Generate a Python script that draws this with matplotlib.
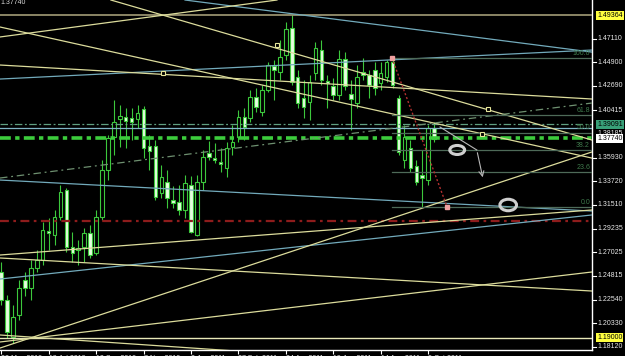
import matplotlib
matplotlib.use('Agg')
import matplotlib.pyplot as plt
from matplotlib.patches import Rectangle, Ellipse

# ---------------- data (weekly candles) ----------------
opens = [1.2517, 1.2253, 1.1905, 1.2112, 1.2442, 1.2366, 1.2555, 1.2630, 1.2903, 1.2865,
         1.3035, 1.3289, 1.2752, 1.2724, 1.2752, 1.2884, 1.2696, 1.3035, 1.3477, 1.3788,
         1.3957, 1.3976, 1.3967, 1.3957, 1.4052, 1.3703, 1.3703, 1.3261, 1.3364, 1.3195,
         1.3176, 1.3101, 1.3336, 1.2865, 1.3364, 1.3637, 1.3590, 1.3553, 1.3496, 1.3694,
         1.3788, 1.3976, 1.3967, 1.4165, 1.4023, 1.4231, 1.4457, 1.4400, 1.4560, 1.4814,
         1.4353, 1.4155, 1.4118, 1.4391, 1.4607, 1.4315, 1.4268, 1.4183, 1.4522, 1.4193,
         1.4108, 1.4400, 1.4372, 1.4419, 1.4296, 1.4353, 1.4494, 1.4155, 1.3571, 1.3684,
         1.3515, 1.3430, 1.3383, 1.3873]
highs = [1.2611, 1.2300, 1.2206, 1.2442, 1.2517, 1.2630, 1.2724, 1.2988, 1.3025, 1.3101,
         1.3336, 1.3308, 1.2893, 1.2818, 1.2931, 1.2959, 1.3101, 1.3571, 1.3807, 1.4136,
         1.4089, 1.4061, 1.4061, 1.4089, 1.4080, 1.3807, 1.3760, 1.3524, 1.3477, 1.3327,
         1.3336, 1.3430, 1.3421, 1.3430, 1.3666, 1.3750, 1.3731, 1.3684, 1.3741, 1.3901,
         1.4042, 1.4061, 1.4231, 1.4249, 1.4278, 1.4494, 1.4513, 1.4701, 1.4871, 1.4937,
         1.4419, 1.4325, 1.4372, 1.4683, 1.4701, 1.4372, 1.4344, 1.4607, 1.4588, 1.4325,
         1.4466, 1.4532, 1.4419, 1.4494, 1.4494, 1.4513, 1.4532, 1.4183, 1.3901, 1.3760,
         1.3571, 1.3666, 1.3901, 1.3929]
lows = [1.2206, 1.1895, 1.1848, 1.2065, 1.2291, 1.2253, 1.2517, 1.2583, 1.2724, 1.2771,
        1.3006, 1.2705, 1.2611, 1.2583, 1.2611, 1.2649, 1.2677, 1.3006, 1.3383, 1.3619,
        1.3694, 1.3684, 1.3760, 1.3873, 1.3590, 1.3477, 1.3195, 1.3214, 1.3120, 1.3120,
        1.3054, 1.3025, 1.2884, 1.2856, 1.3289, 1.3571, 1.3543, 1.3458, 1.3411, 1.3619,
        1.3741, 1.3760, 1.3929, 1.4023, 1.3986, 1.4212, 1.4136, 1.4325, 1.4513, 1.4278,
        1.4061, 1.3967, 1.3948, 1.4325, 1.4278, 1.4061, 1.4136, 1.4136, 1.4231, 1.3854,
        1.4061, 1.4325, 1.4155, 1.4183, 1.4231, 1.4306, 1.4249, 1.3619, 1.3496, 1.3458,
        1.3336, 1.3129, 1.3336, 1.3741]
closes = [1.2253, 1.1952, 1.2093, 1.2366, 1.2366, 1.2555, 1.2630, 1.2912, 1.2884, 1.3035,
          1.3270, 1.2752, 1.2696, 1.2743, 1.2884, 1.2677, 1.3035, 1.3477, 1.3779, 1.3929,
          1.3986, 1.3939, 1.3929, 1.4014, 1.3684, 1.3656, 1.3223, 1.3411, 1.3214, 1.3167,
          1.3101, 1.3355, 1.2893, 1.3364, 1.3600, 1.3600, 1.3571, 1.3534, 1.3684, 1.3741,
          1.3976, 1.3882, 1.4165, 1.4070, 1.4231, 1.4466, 1.4419, 1.4541, 1.4805, 1.4306,
          1.4108, 1.4070, 1.4306, 1.4626, 1.4325, 1.4296, 1.4183, 1.4522, 1.4268, 1.4146,
          1.4353, 1.4372, 1.4278, 1.4249, 1.4391, 1.4494, 1.4278, 1.3647, 1.3788, 1.3496,
          1.3364, 1.3402, 1.3873, 1.3774]

date_idx = [0, 8, 16, 24, 32, 40, 48, 56, 64, 72]
date_labels = ['23 May 2010', '18 Jul 2010', '12 Sep 2010', '7 Nov 2010', '2 Jan 2011',
               '27 Feb 2011', '24 Apr 2011', '19 Jun 2011', '14 Aug 2011', '9 Oct 2011']

price_ticks = [1.47110, 1.44900, 1.42690, 1.40415, 1.35930, 1.33720, 1.31510,
               1.29235, 1.27025, 1.24815, 1.22540, 1.20330, 1.18120]

# horizontal levels: (price, color, linestyle, linewidth)
h_prices = [1.49364, 1.19000, 1.39091, 1.3873, 1.3779, 1.2997]
h_colors = ['#a39b76', '#e8e8b8', '#5f9f80', '#7fb4c4', '#3ccc3c', '#8e1c1c']
h_styles = ['-', '-', (0, (6, 2, 1.5, 2)), '-', (0, (3, 1.2, 1.2, 1.2)), (0, (4, 2, 1.2, 2))]
h_widths = [1.2, 1.0, 0.9, 0.9, 2.6, 1.6]

# trend lines (x index, price) -> (x index, price)
teal_lines = [(-0.2, 1.4334, 99.6, 1.4607),
              (31.0, 1.5078, 99.6, 1.4588),
              (-0.2, 1.3383, 99.6, 1.3091),
              (-0.2, 1.2451, 99.6, 1.3054)]
yellow_lines = [(-0.2, 1.4730, 46.5, 1.5078),
                (18.5, 1.5078, 99.6, 1.3760),
                (-0.2, 1.4824, 99.6, 1.3590),
                (-0.2, 1.4466, 99.6, 1.4146),
                (-0.2, 1.2677, 99.6, 1.3101),
                (-0.2, 1.2649, 99.6, 1.2338),
                (-0.2, 1.1858, 99.6, 1.2517),
                (-0.2, 1.1924, 42.0, 1.1764),
                (-0.2, 1.1801, 99.6, 1.3647)]
dashdot_line = (-0.2, 1.3402, 99.6, 1.4108)
square_x = [27.3, 46.5, 82.1, 81.1]
square_p = [1.4391, 1.4654, 1.4052, 1.3816]

# fibonacci retracement anchors
fib_x0, fib_high = 65.9, 1.4532
fib_x1, fib_low = 75.2, 1.3129
fib_ratios = [0.0, 0.236, 0.382, 0.5, 0.618, 1.0]
fib_names = ['0.0', '23.6', '38.2', '50.0', '61.8', '100.0']

arrow_x = [74.0, 80.2, 81.3]
arrow_p = [1.3882, 1.3666, 1.3383]
ring_x = [76.9, 85.5]
ring_p = [1.3666, 1.3148]
ring_w = [2.5, 2.8]
ring_h = [0.0085, 0.0108]

boxed_p = [1.49364, 1.39091, 1.37740, 1.19000]
boxed_bg = ['#ffff40', '#38a078', '#ffffff', '#ffff40']

XMIN, XMAX = -0.2, 99.63
YMIN, YMAX = 1.17826, 1.50782

# ---------------- figure ----------------
plt.rcParams['font.family'] = ['Liberation Sans', 'DejaVu Sans']
fig = plt.figure(figsize=(6.25, 3.56), dpi=100, facecolor='black')
ax = fig.add_axes([0, 6 / 356, 592 / 625, 350 / 356])
ax.set_facecolor('black')
ax.set_xlim(XMIN, XMAX)
ax.set_ylim(YMIN, YMAX)

green = '#3cc83c'
for i, (o, h, l, c) in enumerate(zip(opens, highs, lows, closes)):
    ax.vlines(i, l, h, color=green, lw=0.8, zorder=2)
    bull = c >= o
    lo, hi = min(o, c), max(o, c)
    ax.add_patch(Rectangle((i - 0.3, lo), 0.6, max(hi - lo, 0.0004),
                           facecolor='black' if bull else '#e6ffe0',
                           edgecolor=green, lw=0.8, zorder=2.5))

for p, col, ls, lw in zip(h_prices, h_colors, h_styles, h_widths):
    ax.axhline(p, color=col, ls=ls, lw=lw, zorder=3)

for x0, p0, x1, p1 in teal_lines:
    ax.plot([x0, x1], [p0, p1], color='#72aabb', lw=0.9, zorder=3)
for x0, p0, x1, p1 in yellow_lines:
    ax.plot([x0, x1], [p0, p1], color='#dcdc9c', lw=0.9, zorder=3)
ax.plot([dashdot_line[0], dashdot_line[2]], [dashdot_line[1], dashdot_line[3]],
        color='#6e9070', lw=0.9, ls=(0, (6, 3, 1.5, 3)), zorder=3)
ax.plot(square_x, square_p, 's', ms=3.2, mfc='black', mec='#e6e69a', mew=0.8, ls='none', zorder=4)

# fibonacci
for r, name in zip(fib_ratios, fib_names):
    lvl = fib_low + r * (fib_high - fib_low)
    ax.plot([fib_x0, XMAX], [lvl, lvl], color='#4e6a58', lw=0.9, zorder=3)
    ax.text(99.3, lvl + 0.0012, name, color='#3f7a4c', fontsize=5, ha='right', va='bottom', zorder=4)
ax.plot([fib_x0, fib_x1], [fib_high, fib_low], color='#b33030', lw=1.0, ls=(0, (1.5, 1.5)), zorder=4)
ax.plot([fib_x0, fib_x1], [fib_high, fib_low], 's', ms=2.2, mfc='#f0a0a0', mec='#f0a0a0', ls='none', zorder=4)

# arrow & rings
ax.plot(arrow_x[:2], arrow_p[:2], color='#b8b8b8', lw=0.8, zorder=5)
ax.annotate('', xy=(arrow_x[2], arrow_p[2]), xytext=(arrow_x[1], arrow_p[1]),
            arrowprops=dict(arrowstyle='->', color='#b8b8b8', lw=0.8, mutation_scale=9), zorder=5)
for x, p, w, h in zip(ring_x, ring_p, ring_w, ring_h):
    ax.add_patch(Ellipse((x, p), w, h, fill=False, edgecolor='#cfcfcf', lw=2.2, zorder=5))

# axes styling
for s in ['top', 'left']:
    ax.spines[s].set_visible(False)
for s in ['right', 'bottom']:
    ax.spines[s].set_color('white')
    ax.spines[s].set_linewidth(1.0)

# price scale (manual ticks + labels)
ytr = ax.get_yaxis_transform()
ax.set_yticks([])
for t in price_ticks:
    ax.plot([1.0, 1.0 + 4 / 592], [t, t], color='white', lw=0.8, transform=ytr, clip_on=False)
    ax.text(1.0085, t, f'{t:.5f}', transform=ytr, color='#e8e8e8', fontsize=5,
            va='center', ha='left', clip_on=False, zorder=6)

ax.set_xticks(date_idx)
ax.set_xticklabels(date_labels, ha='left')
ax.tick_params(axis='x', colors='white', labelcolor='#e8e8e8', labelsize=5, length=3, pad=0.5, width=0.8)

# partially hidden label under boxes
ax.text(1.0085, 1.3818, '1.38185', transform=ytr, color='#e8e8e8',
        fontsize=5, va='center', ha='left', clip_on=False, zorder=6)
for p, bg in zip(boxed_p, boxed_bg):
    ax.text(1.0085, p, f'{p:.5f}', transform=ytr, color='black',
            fontsize=5, va='center', ha='left', clip_on=False, zorder=7,
            bbox=dict(boxstyle='square,pad=0.15', fc=bg, ec='none'))

fig.text(0.001, 1.003, '1.37740', color='#d8d8d8', fontsize=5, ha='left', va='top')

fig.savefig('out.png', dpi=100, facecolor='black')
